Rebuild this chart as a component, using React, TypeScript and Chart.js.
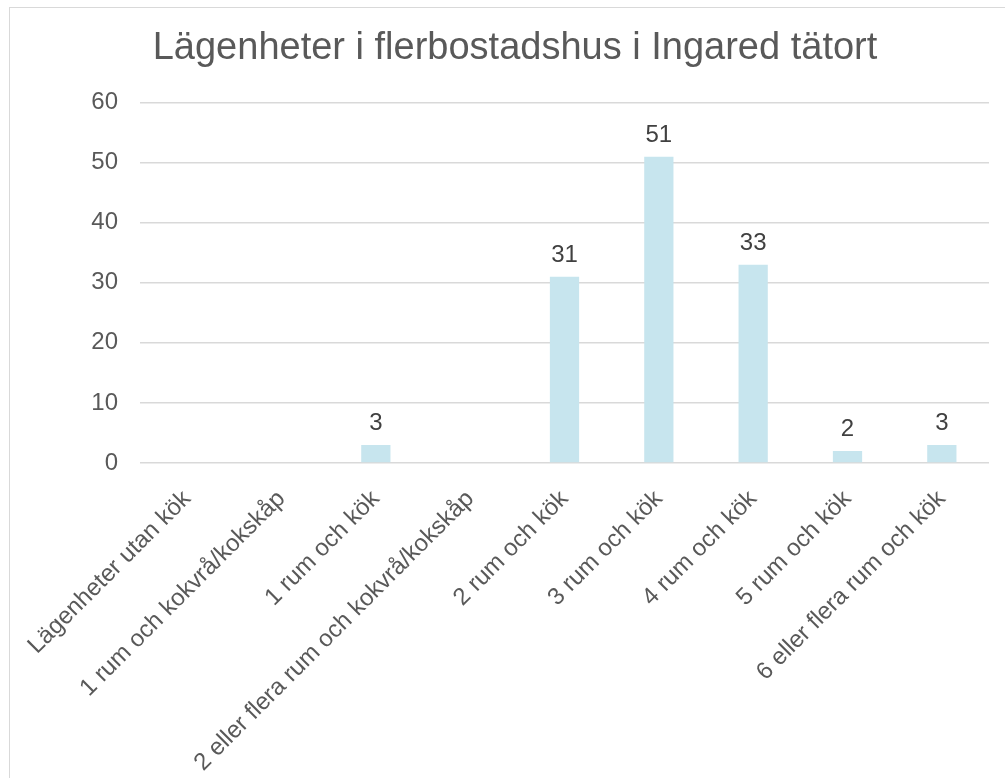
import React, { useEffect, useRef } from "react";
import { Chart, registerables } from "chart.js";

Chart.register(...registerables);

const titleText = "Lägenheter i flerbostadshus i Ingared tätort";
const categories = [
  "Lägenheter utan kök",
  "1 rum och kokvrå/kokskåp",
  "1 rum och kök",
  "2 eller flera rum och kokvrå/kokskåp",
  "2 rum och kök",
  "3 rum och kök",
  "4 rum och kök",
  "5 rum och kök",
  "6 eller flera rum och kök",
];
const values = [0, 0, 3, 0, 31, 51, 33, 2, 3];
const yMin = 0;
const yMax = 60;
const yStep = 10;

const FONT = "'Liberation Sans', Arial, sans-serif";

const dataLabelPlugin = {
  id: "dataLabels",
  afterDatasetsDraw(chart: any) {
    const ctx = chart.ctx;
    const meta = chart.getDatasetMeta(0);
    ctx.save();
    ctx.font = `24px ${FONT}`;
    ctx.fillStyle = "#404040";
    ctx.textAlign = "center";
    ctx.textBaseline = "alphabetic";
    meta.data.forEach((bar: any, i: number) => {
      const v = chart.data.datasets[0].data[i];
      if (!v) return;
      ctx.fillText(String(v), bar.x, bar.y - 15);
    });
    ctx.restore();
  },
};

export default function App() {
  const ref = useRef<HTMLCanvasElement>(null);
  useEffect(() => {
    if (!ref.current) return;
    const chart = new Chart(ref.current, {
      type: "bar",
      data: {
        labels: categories,
        datasets: [
          {
            data: values,
            backgroundColor: "#C7E5EE",
            borderWidth: 0,
            categoryPercentage: 1,
            barPercentage: 0.31,
          },
        ],
      },
      options: {
        animation: false,
        responsive: false,
        maintainAspectRatio: false,
        layout: { padding: { left: 41, right: 16, top: 0, bottom: 0 } },
        plugins: {
          legend: { display: false },
          tooltip: { enabled: false },
          title: {
            display: true,
            text: titleText,
            color: "#595959",
            font: { family: FONT, size: 38, weight: "normal" },
            padding: { top: 26, bottom: 31 },
          },
        },
        scales: {
          x: {
            grid: { display: false, drawTicks: false },
            border: { display: false },
            ticks: {
              color: "#595959",
              font: { family: FONT, size: 24 },
              maxRotation: 45,
              minRotation: 45,
              autoSkip: false,
              padding: 22,
            },
            afterFit(scale: any) {
              scale.height = 315;
            },
          },
          y: {
            min: yMin,
            max: yMax,
            grid: { color: "#d9d9d9", lineWidth: 1.5, drawTicks: false },
            border: { display: false },
            ticks: {
              stepSize: yStep,
              color: "#595959",
              font: { family: FONT, size: 24 },
              padding: 22,
            },
            afterFit(scale: any) {
              scale.width = 99;
            },
          },
        },
      },
      plugins: [dataLabelPlugin],
    });
    return () => chart.destroy();
  }, []);

  return (
    <div
      style={{
        position: "fixed",
        left: 0,
        top: 0,
        width: 1005,
        height: 778,
        overflow: "hidden",
        background: "#fff",
      }}
    >
      <div
        style={{
          position: "absolute",
          left: 9,
          top: 7,
          width: 1200,
          height: 1000,
          border: "1.5px solid #d9d9d9",
          boxSizing: "border-box",
        }}
      />
      <canvas
        ref={ref}
        width={1005}
        height={778}
        style={{ position: "absolute", left: 0, top: 0, width: 1005, height: 778 }}
      />
    </div>
  );
}
